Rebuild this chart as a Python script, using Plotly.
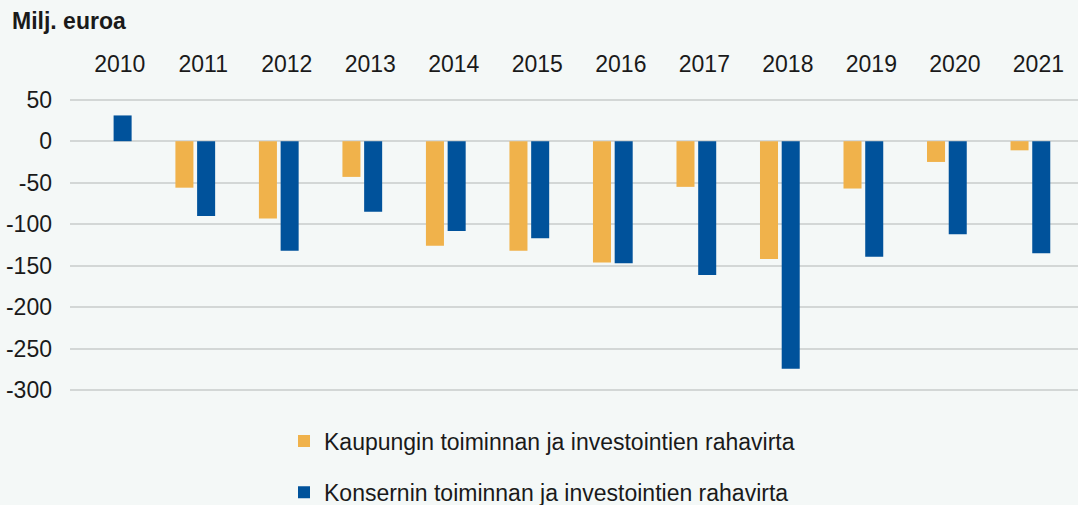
import plotly.graph_objects as go

years = ["2010", "2011", "2012", "2013", "2014", "2015", "2016", "2017", "2018", "2019", "2020", "2021"]
kaupunki = [None, -56, -93, -43, -126, -132, -146, -55, -142, -57, -25, -11]
konserni = [31, -90, -132, -85, -108, -117, -147, -161, -274, -139, -112, -135]
y_ticks = [50, 0, -50, -100, -150, -200, -250, -300]

name_k = "Kaupungin toiminnan ja investointien rahavirta"
name_c = "Konsernin toiminnan ja investointien rahavirta"

FONT = "Liberation Sans, Arial, sans-serif"
TXT = "#1a1a1a"
BG = "#f4f8f7"
GRID = "#d3d7d6"

fig = go.Figure()
fig.add_trace(go.Bar(x=years, y=kaupunki, name=name_k, marker=dict(color="#f0b24b", line=dict(width=0)), legend="legend"))
fig.add_trace(go.Bar(x=years, y=konserni, name=name_c, marker=dict(color="#00529b", line=dict(width=0)), legend="legend2"))

fig.update_layout(
    width=1078, height=505,
    paper_bgcolor=BG, plot_bgcolor=BG,
    margin=dict(l=70, r=0, t=98, b=113, autoexpand=False),
    barmode="group", bargap=0.48, bargroupgap=0.17,
    font=dict(family=FONT, size=23, color=TXT),
    title=dict(text="<b>Milj. euroa</b>", font=dict(family=FONT, size=23, color=TXT),
               xref="container", yref="container", x=12/1078, xanchor="left",
               y=1-21/505, yanchor="middle"),
    legend=dict(x=(284-70)/1008, xanchor="left", y=-(440-391)/293, yanchor="middle",
                bgcolor="rgba(0,0,0,0)", font=dict(size=23, color=TXT), itemwidth=30),
    legend2=dict(x=(284-70)/1008, xanchor="left", y=-(491-391)/293, yanchor="middle",
                 bgcolor="rgba(0,0,0,0)", font=dict(size=23, color=TXT), itemwidth=30),
    showlegend=True,
)
fig.update_xaxes(side="top", type="category", range=[-0.5, 11.57], showgrid=False, showline=False,
                 ticks="", tickangle=0, ticklabelstandoff=20, ticklabelshift=8, tickfont=dict(size=23, color=TXT))
fig.update_yaxes(range=[-302, 52], tickvals=y_ticks, ticktext=[str(v) for v in y_ticks],
                 showgrid=True, gridcolor=GRID, gridwidth=2, zeroline=True, zerolinecolor=GRID, zerolinewidth=2,
                 showline=False, ticks="", ticklabelstandoff=17, tickfont=dict(size=23, color=TXT))

fig.write_html("out.html", config={"displayModeBar": False},
               post_script="document.body.style.margin='0';")
